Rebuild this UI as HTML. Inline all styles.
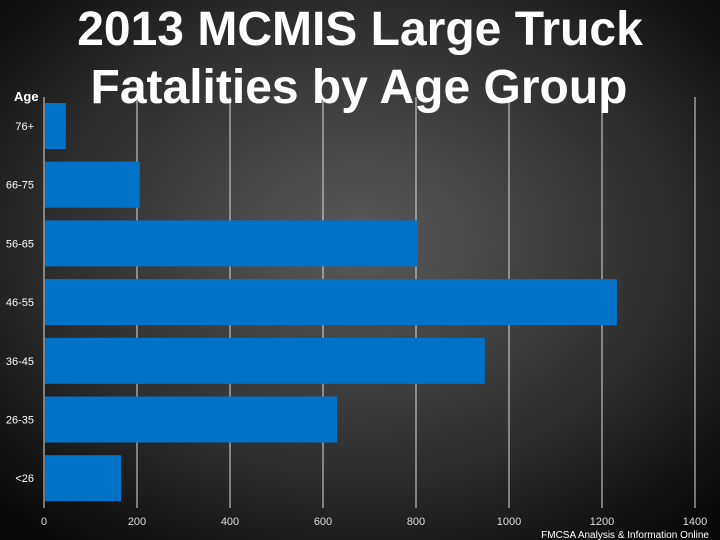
<!DOCTYPE html>
<html><head><meta charset="utf-8"><style>
html,body{margin:0;padding:0;width:720px;height:540px;overflow:hidden;background:#000}
svg{display:block}
text{font-family:"Liberation Sans",sans-serif}
</style></head><body>
<svg id="c" width="720" height="540">
<defs><radialGradient id="bg" cx="50%" cy="45%" r="70%"><stop offset="0" stop-color="#5a5a5a"/><stop offset="0.6" stop-color="#2e2e2e"/><stop offset="1" stop-color="#080808"/></radialGradient></defs>
<rect width="720" height="540" fill="url(#bg)"/>
<g id="grid"></g><g id="bars"></g><g id="axes"></g>
<text x="360" y="45" text-anchor="middle" font-size="48" font-weight="bold" fill="#fff">2013 MCMIS Large Truck</text>
<text x="359" y="103" text-anchor="middle" font-size="48" font-weight="bold" fill="#fff">Fatalities by Age Group</text>
<text x="14" y="101" font-size="13" font-weight="bold" fill="#fff">Age</text>
<text x="709" y="538" text-anchor="end" font-size="10" fill="#fff">FMCSA Analysis &amp; Information Online</text>
</svg>
<script>
const categories=["76+","66-75","56-65","46-55","36-45","26-35","<26"];
const values=[47,206,804,1232,948,630,166];
const ticks=[0,200,400,600,800,1000,1200,1400];
const NS="http://www.w3.org/2000/svg";
const x0=44,x1=695,top0=97,band=58.7;
const xs=v=>x0+(v/1400)*(x1-x0);
const yb=i=>top0+i*band;
function mk(t,a,p){const e=document.createElementNS(NS,t);for(const k in a)e.setAttribute(k,a[k]);document.getElementById(p).appendChild(e);return e;}
ticks.forEach((t,i)=>{
 if(i>0){const g=mk('line',{x1:xs(t),x2:xs(t),y1:top0,y2:508,stroke:'#ddd','stroke-width':1},'grid');
 
 }
 const tk=mk('line',{x1:xs(t),x2:xs(t),y1:501,y2:508,stroke:'#ddd'},'axes');
 
 
 const l=mk('text',{x:xs(t),y:525,'text-anchor':'middle','font-size':11,fill:'#ddd'},'axes');
 l.textContent=t;
 
 
});
const ax=mk('line',{x1:x0,x2:x0,y1:top0,y2:508,stroke:'#ddd'},'axes');


categories.forEach((c,i)=>{
 const y=yb(i);
 const r=mk('rect',{x:x0+1,y:y+6,width:xs(values[i])-x0-1,height:46,fill:'#0073c8'},'bars');
 
 
 const l=mk('text',{x:34,y:y+33,'text-anchor':'end','font-size':11,fill:'#fff'},'axes');
 l.textContent=c;
 
 
});
</script>
</body></html>
